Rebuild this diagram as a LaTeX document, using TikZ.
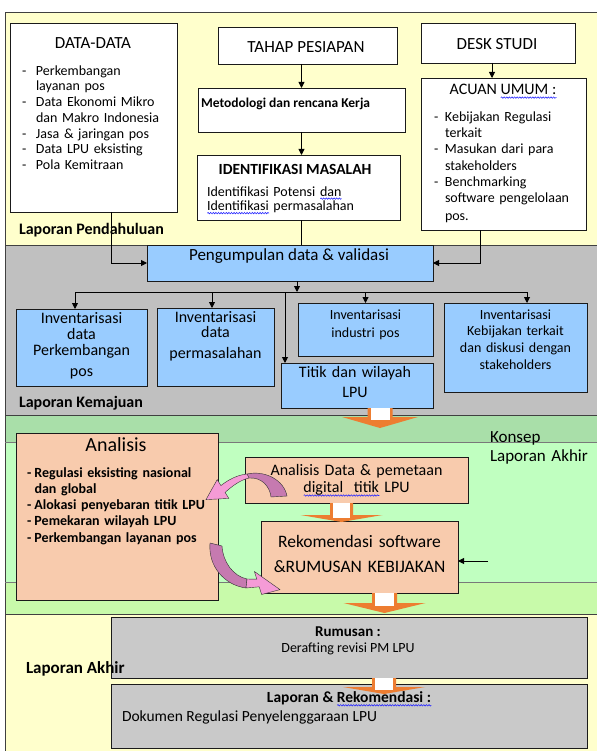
\documentclass[tikz,border=0pt]{standalone}
\usepackage{fontspec}
\setmainfont{Carlito}
\usetikzlibrary{arrows.meta,calc,decorations.pathmorphing}
\definecolor{bandY}{HTML}{FFFFCC}
\definecolor{bandG}{HTML}{C0C0C0}
\definecolor{greenD}{HTML}{A9DFA9}
\definecolor{greenL}{HTML}{C0FFC0}
\definecolor{greenP}{HTML}{C8FAAA}
\definecolor{bluebox}{HTML}{99CCFF}
\definecolor{peach}{HTML}{F8CBAD}
\definecolor{graybox}{HTML}{C9C9C9}
\definecolor{orangeA}{HTML}{ED7D31}
\definecolor{mauve}{HTML}{C67AB0}
\definecolor{pinkA}{HTML}{F59BD6}
\definecolor{boxline}{HTML}{1A1A1A}
\definecolor{bandline}{HTML}{404040}
\definecolor{wavy}{HTML}{2A2AFF}
\newcommand\bwave[1]{\setbox0\hbox{#1}\leavevmode\rlap{\tikz[baseline=0pt,x=1pt,y=1pt]\draw[wavy,line width=0.6pt,decorate,decoration={snake,amplitude=0.7pt,segment length=2.6pt}] (0,-2.6) -- (\the\wd0,-2.6);}\box0\relax}
\newcommand\fs[2]{\fontsize{#1}{#2}\selectfont}
\newcommand\dsh[1]{\makebox[#1][l]{-}}
\tikzset{pics/blockdown/.style n args={4}{code={%
  \fill[orangeA] (-#1,0) -- (#1,0) -- (#1,#2) -- (#3,#2) -- (0,#2+#4) -- (-#3,#2) -- (-#1,#2) -- cycle;
  \fill[white] (-#1+3,0) rectangle (#1-3,#2+2.5);
}}}
\begin{document}
\begin{tikzpicture}[x=1pt,y=-1pt,
  box/.style={draw=boxline, line width=0.9pt, inner sep=0pt, outer sep=0pt, anchor=north west},
  txt/.style={inner sep=0pt, outer sep=0pt},
  arr/.style={-{Triangle[length=6pt,width=6pt]}, line width=0.9pt},
  band/.style={draw=bandline, line width=0.8pt},
  pinkline/.style={draw=black!80, line width=0.4pt}]
\useasboundingbox (0,0) rectangle (596,751);
% bands
\fill[bandY] (5,12) rectangle (620,245);
\fill[bandG] (5,245) rectangle (620,415);
\fill[greenD] (5,415) rectangle (620,442);
\fill[greenL] (5,442) rectangle (620,582);
\fill[greenP] (5,582) rectangle (620,614);
\fill[bandY] (5,614) rectangle (620,760);
\draw[band] (620,12) -- (5,12) -- (5,760);
\draw[band] (5,245) -- (620,245);
\draw[band] (5,415) -- (620,415);
\draw[draw=bandline!70, line width=0.6pt] (5,442) -- (620,442);
\draw[draw=bandline!70, line width=0.6pt] (5,582) -- (620,582);
\draw[band] (5,614) -- (620,614);
% boxes
\node[box,fill=white,minimum width=167pt,minimum height=189pt] (data) at (10,23) {};
\node[box,fill=white,minimum width=179pt,minimum height=37pt] (tahap) at (218,27) {};
\node[box,fill=white,minimum width=207pt,minimum height=44pt] (metod) at (198,88) {};
\node[box,fill=white,minimum width=203pt,minimum height=65pt] (ident) at (197,155) {};
\node[box,fill=white,minimum width=154pt,minimum height=40pt] (desk) at (421,23) {};
\node[box,fill=white,minimum width=165pt,minimum height=152pt] (acuan) at (421,78) {};
\node[box,fill=bluebox,minimum width=286pt,minimum height=36pt] (peng) at (147,245) {};
\node[box,fill=bluebox,minimum width=131pt,minimum height=77pt] (inv1) at (16,309) {};
\node[box,fill=bluebox,minimum width=117pt,minimum height=78pt] (inv2) at (157,308) {};
\node[box,fill=bluebox,minimum width=135pt,minimum height=53pt] (inv3) at (298,303) {};
\node[box,fill=bluebox,minimum width=152pt,minimum height=45pt] (titik) at (281,363) {};
\node[box,fill=bluebox,minimum width=143pt,minimum height=89pt] (inv4) at (444,303) {};
\node[box,fill=peach,minimum width=202pt,minimum height=167pt] (anal) at (16,433) {};
\node[box,fill=peach,minimum width=223pt,minimum height=46pt] (anadata) at (245,457) {};
\node[box,fill=peach,minimum width=197pt,minimum height=72pt] (rekom) at (261,521) {};
\node[box,fill=graybox,minimum width=476pt,minimum height=61pt] (rumus) at (111,617) {};
\node[box,fill=graybox,minimum width=476pt,minimum height=64pt] (laprek) at (111,684) {};
% texts
\node[txt,anchor=base,font=\fs{17}{20}] (tdata) at (93,48.3) {DATA-DATA};
\node[txt,anchor=north west,text width=150pt,align=left,font=\fs{14}{15.7}] (ldata) at (22,65.5) {\dsh{14pt}Perkembangan\\\hspace*{14pt}layanan pos\\\dsh{14pt}Data Ekonomi Mikro\\\hspace*{14pt}dan Makro Indonesia\\\dsh{14pt}Jasa \& jaringan pos\\\dsh{14pt}Data LPU eksisting\\\dsh{14pt}Pola Kemitraan};
\node[txt,anchor=base,font=\fs{17}{20}] (ttahap) at (306,52.7) {TAHAP PESIAPAN};
\node[txt,anchor=base west,font=\bfseries\fs{13.5}{16}] (tmetod) at (201,107.3) {Metodologi dan rencana Kerja};
\node[txt,anchor=base,font=\bfseries\fs{15.5}{18}] (tident) at (295,175) {IDENTIFIKASI MASALAH};
\node[txt,anchor=north west,text width=190pt,align=left,font=\fs{14}{14.5}] (lident) at (207,186.3) {Identifikasi Potensi \bwave{dan}\\\bwave{Identifikasi} permasalahan};
\node[txt,anchor=base,font=\fs{17}{20}] (tdesk) at (497,50) {DESK STUDI};
\node[txt,anchor=base,font=\fs{16}{19}] (tacuan) at (503,95) {ACUAN \bwave{UMUM :}};
\node[txt,anchor=north west,text width=150pt,align=left,font=\fs{14}{16.3}] (lacuan) at (434,111.5) {\dsh{11pt}Kebijakan Regulasi\\\hspace*{11pt}terkait\\\dsh{11pt}Masukan dari para\\\hspace*{11pt}stakeholders\\\dsh{11pt}Benchmarking\\\hspace*{11pt}software pengelolaan\\[1.5pt]\hspace*{11pt}pos.};
\node[txt,anchor=base west,font=\bfseries\fs{16}{19}] (tlp) at (19,234.8) {Laporan Pendahuluan};
\node[txt,anchor=base,font=\fs{17}{20}] (tpeng) at (289,260.1) {Pengumpulan data \& validasi};
\node[txt,anchor=north,text width=130pt,align=center,font=\fs{16}{16}] (linv1) at (81.5,312.8) {Inventarisasi\\data\\Perkembangan\\[5pt]pos};
\node[txt,anchor=north,text width=115pt,align=center,font=\fs{16}{15}] (linv2) at (215.5,311.8) {Inventarisasi\\data\\[6pt]permasalahan};
\node[txt,anchor=north,text width=130pt,align=center,font=\fs{14}{18}] (linv3) at (365.5,309.5) {Inventarisasi\\industri pos};
\node[txt,anchor=north,text width=140pt,align=center,font=\fs{14}{16.7}] (linv4) at (515.5,309.5) {Inventarisasi\\Kebijakan terkait\\dan diskusi dengan\\stakeholders};
\node[txt,anchor=north,text width=150pt,align=center,font=\fs{16}{20}] (ltitik) at (355,366.8) {Titik dan wilayah\\LPU};
\node[txt,anchor=base west,font=\bfseries\fs{16}{19}] (tlk) at (19,407.8) {Laporan Kemajuan};
\node[txt,anchor=base,font=\fs{20}{22}] (tanal) at (116,451.4) {Analisis};
\node[txt,anchor=north west,text width=195pt,align=left,font=\bfseries\fs{14}{16.2}] (lanal) at (27,467.5) {\dsh{7.5pt}Regulasi eksisting nasional\\\hspace*{7.5pt}dan global\\\dsh{7.5pt}Alokasi penyebaran titik LPU\\\dsh{7.5pt}Pemekaran wilayah LPU\\\dsh{7.5pt}Perkembangan layanan pos};
\node[txt,anchor=north,text width=220pt,align=center,font=\fs{16}{17}] (lanad) at (356.5,464.8) {Analisis Data \& pemetaan\\\bwave{digital~ titik} LPU};
\node[txt,anchor=north,text width=195pt,align=center,font=\fs{17.5}{25}] (lrekom) at (359.5,535.2) {Rekomendasi software\\\&RUMUSAN KEBIJAKAN};
\node[txt,anchor=north west,text width=110pt,align=left,font=\fs{17}{19}] (lkon) at (490,431.4) {Konsep\\Laporan Akhir};
\node[txt,anchor=base,font=\bfseries\fs{15}{18}] (trum) at (348,636.5) {Rumusan :};
\node[txt,anchor=base,font=\fs{14}{17}] (tder) at (348,652.2) {Derafting revisi PM LPU};
\node[txt,anchor=base,font=\bfseries\fs{15.5}{18}] (tlr) at (349,702.7) {Laporan \& \bwave{Rekomendasi :}};
\node[txt,anchor=base west,font=\fs{15.5}{18}] (tdok) at (122,721.6) {Dokumen Regulasi Penyelenggaraan LPU};
\node[txt,anchor=base west,font=\bfseries\fs{17}{19}] (tla) at (26,673.1) {Laporan Akhir};
% connectors
\draw[arr] ([xshift=17.5pt]data.south) |- (peng.west);
\draw[arr] ([xshift=-23.5pt]acuan.south) |- (peng.east);
\draw[arr] (tahap.south -| metod.north) -- (metod.north);
\draw[arr] (metod.south) -- (metod.south |- ident.north);
\draw[line width=0.9pt] (ident.south -| metod.south) -- (metod.south |- peng.north);
\draw[arr] ([xshift=-6pt]desk.south) -- ([xshift=-6pt]desk.south |- acuan.north);
\coordinate (busL) at (75,292);
\coordinate (busR) at (527,292);
\draw[line width=0.9pt] (busL) -- (busR);
\draw[arr] ([xshift=7pt]peng.south) -- ([xshift=7pt]peng.south |- busL);
\draw[arr] (busL) -- (busL |- inv1.north);
\draw[arr] ([xshift=-3.5pt]inv2.north |- busL) -- ([xshift=-3.5pt]inv2.north);
\draw[arr] (inv3.north |- busL) -- (inv3.north);
\draw[arr] (busR) -- (busR |- inv4.north);
\draw[arr] ([xshift=4pt]titik.north west |- busL) -- ([xshift=4pt]titik.north west);
\coordinate (rekin) at (488,561);
\draw[arr] (rekin) -- (rekin -| rekom.east);
% block arrows
\pic at ([xshift=23pt]titik.south) {blockdown={12.5}{9}{38}{11}};
\pic at ([xshift=-15pt]anadata.south) {blockdown={11.5}{12}{41}{7}};
\pic at ([xshift=25pt]rekom.south) {blockdown={12.5}{10}{41}{10}};
\pic at ([xshift=35pt]rumus.south) {blockdown={12}{9}{41}{7}};
% curved arrows
\path[fill=mauve, pinkline] (287,496) .. controls (284,480) and (265,470) .. (247,474) -- (249,478) .. controls (262,477) and (270,487) .. (271,497) -- cycle;
\path[fill=pinkA, pinkline] (247,474) .. controls (237,475) and (228,480) .. (220.9,485.6) -- (217.2,479.6) -- (206,499.6) -- (228.8,498.4) -- (225.1,492.4) .. controls (231,487) and (240,480) .. (249,478) -- cycle;
\path[fill=mauve, pinkline] (210,543) .. controls (208,566) and (224,585) .. (246,588) -- (247,579) .. controls (233,576) and (223,562) .. (222,546) -- cycle;
\path[fill=pinkA, pinkline] (247,579) .. controls (251,579.5) .. (256.8,579.2) -- (254.4,571.5) -- (280,589.6) -- (261.6,594.5) -- (259.2,586.8) .. controls (253,588) .. (246,588) -- cycle;
\end{tikzpicture}
\end{document}
